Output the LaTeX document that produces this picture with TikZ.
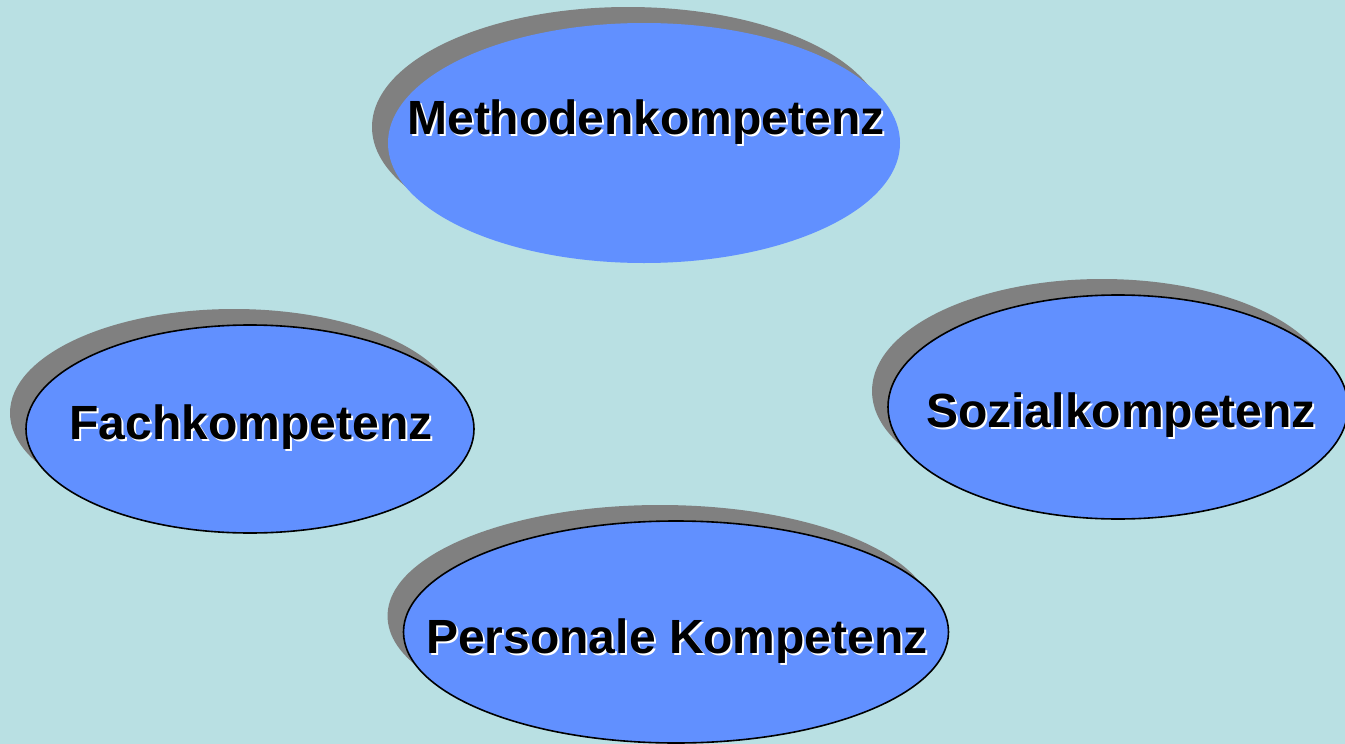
\documentclass[tikz,border=0pt]{standalone}
\usepackage{fontspec}
\setmainfont{Liberation Sans}
\usetikzlibrary{shapes.geometric,shadows}
\definecolor{bgcyan}{HTML}{B9E0E3}
\definecolor{ovalblue}{HTML}{6190FF}
\definecolor{shadegray}{HTML}{808080}
% bold text with a small white shadow
\newcommand\lbltext[1]{\makebox[0pt][l]{\raisebox{-2pt}{\hspace{2pt}\color{white}#1}}#1}
\tikzset{
  oval/.style={ellipse,fill=ovalblue,inner sep=0pt,
    general shadow={fill=shadegray,shadow xshift=-16pt,shadow yshift=16pt}},
  ovalline/.style={oval,draw=black,line width=1.6pt},
  lbl/.style={anchor=base,inner sep=0pt,
    font=\fontsize{48}{56}\selectfont\bfseries}
}
\begin{document}
\begin{tikzpicture}[x=1pt,y=-1pt]
  \fill[bgcyan] (0,0) rectangle (1345,744);
  \useasboundingbox (0,0) rectangle (1345,744);
  \clip (0,0) rectangle (1345,744);
  % ovals
  \node[oval,minimum width=512pt,minimum height=240pt] (meth) at (644,143) {};
  \node[ovalline,minimum width=448pt,minimum height=208pt] (fach) at (250,429) {};
  \node[ovalline,minimum width=460pt,minimum height=224pt] (sozial) at (1118,407) {};
  \node[ovalline,minimum width=545pt,minimum height=222pt] (pers) at (676,632) {};
  % labels
  \node[lbl] (methtext) at (646,134) {\lbltext{Methodenkompetenz}};
  \node[lbl] (fachtext) at (251,439) {\lbltext{Fachkompetenz}};
  \node[lbl] (sozialtext) at (1121,427) {\lbltext{Sozialkompetenz}};
  \node[lbl] (perstext) at (677,653) {\lbltext{Personale Kompetenz}};
\end{tikzpicture}
\end{document}
